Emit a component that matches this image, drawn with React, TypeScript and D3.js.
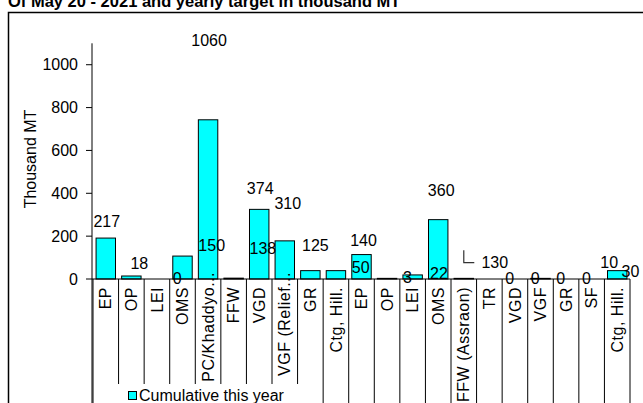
import * as d3 from "d3";

const W = 643;
const H = 403;
const FONT = "'Liberation Sans', Arial, sans-serif";

// categories along the x axis
const categories = [
  "EP", "OP", "LEI", "OMS", "PC/Khaddyo...", "FFW", "VGD", "VGF (Relief...", "GR", "Ctg, Hill.",
  "EP", "OP", "LEI", "OMS", "FFW (Assraon)", "TR", "VGD", "VGF", "GR", "SF", "Ctg, Hill.",
];
// cumulative this year (bars)
const cumulative = [191, 14, 0, 107, 743, 4, 325, 178, 39, 39, 114, 3, 19, 277, 3, 0, 0, 3, 0, 0, 39];
// yearly target labels
const targets = [217, 18, null, null, 1060, null, 374, 310, 125, null, 140, null, null, 360, 130, null, null, null, null, null, 10];
// labels drawn inside / next to the bars
const innerLabels = [null, null, null, 0, 150, null, 138, null, null, null, 50, null, 3, 22, null, null, 0, 0, 0, 0, 30];
const yTicks = [0, 200, 400, 600, 800, 1000];

// hand placed labels in the original (dx, dy in px)
const targetNudge: Record<number, [number, number]> = {
  0: [1, 0], 1: [8, 0], 4: [1, 0], 6: [1, 1], 7: [3, 2.4], 8: [5, 5], 10: [2, 3], 13: [3, 0], 14: [31, 23], 20: [-8, -3],
};
const innerNudge: Record<number, [number, number]> = { 13: [1.5, 0], 20: [14, 0] };
// truncated category labels overflow upwards into the plot
const catShift: Record<number, number> = { 4: -15, 7: -15 };

export default function App() {
  const x = d3.scaleBand<number>()
    .domain(categories.map((_, i) => i))
    .range([93, 630])
    .paddingInner(0.24)
    .paddingOuter(0.12);
  const step = x.step();
  const x0 = 93;

  const y = d3.scaleLinear().domain([0, 1100]).range([279, 43.3]);

  const cx = (i: number) => (x(i) ?? 0) + x.bandwidth() / 2;

  return (
    <svg width={W} height={H} style={{ position: "absolute", left: 0, top: 0, background: "#fff" }} fontFamily={FONT}>
      {/* title, cut at the top */}
      <text x={8} y={6.5} fontSize={16.5} fontWeight="bold">Of May 20 - 2021 and yearly target in thousand MT</text>
      {/* chart frame */}
      <rect x={8.5} y={12.5} width={W + 10} height={H + 10} fill="none" stroke="#000" strokeWidth={1.5} />

      {/* category dividers */}
      {d3.range(categories.length + 1).map((i) => (
        <line key={"d" + i} x1={x0 + i * step} x2={x0 + i * step} y1={y(0)} y2={H + 5} stroke="#000" strokeWidth={1} />
      ))}

      {/* bars */}
      {cumulative.map((v, i) => (
        <rect key={"b" + i} x={x(i)} y={y(v)} width={x.bandwidth()} height={y(0) - y(v)}
          fill="#00ffff" stroke="#000" strokeWidth={1} />
      ))}

      {/* y axis */}
      <line x1={92} x2={92} y1={y(1100)} y2={H + 5} stroke="#000" />
      {yTicks.map((t) => (
        <g key={"t" + t}>
          <line x1={86} x2={92} y1={y(t)} y2={y(t)} stroke="#000" />
          <text x={78} y={y(t)} dy="0.35em" textAnchor="end" fontSize={16}>{t}</text>
        </g>
      ))}
      <text transform={`translate(30,159) rotate(-90)`} textAnchor="middle" dy="0.35em" fontSize={16}>Thousand MT</text>

      {/* x axis */}
      <line x1={92} x2={630} y1={y(0)} y2={y(0)} stroke="#000" />
      {categories.map((c, i) => (
        <text key={"c" + i} transform={`translate(${cx(i)},${287 + (catShift[i] ?? 0)}) rotate(-90)`}
          textAnchor="end" dy="0.35em" fontSize={16} letterSpacing={0.5}>{c}</text>
      ))}

      {/* target labels */}
      {targets.map((v, i) => {
        if (v == null) return null;
        const [dx, dy] = targetNudge[i] ?? [0, 0];
        return (
          <text key={"tl" + i} x={cx(i) + dx} y={y(v) - 6 + dy} textAnchor="middle" fontSize={16}>{v}</text>
        );
      })}
      {/* leader line of the moved 130 label */}
      <path d={`M${cx(14)},${y(130) - 1}V${y(130) + 11.5}H${cx(14) + 10.5}`} fill="none" stroke="#333" strokeWidth={1.2} />

      {/* inner labels */}
      {innerLabels.map((v, i) => {
        if (v == null) return null;
        const [dx, dy] = innerNudge[i] ?? [0, 0];
        return (
          <text key={"il" + i} x={(x(i) ?? 0) + dx} y={y(v) - 1 + dy} dy="0.35em" fontSize={16}>{v}</text>
        );
      })}

      {/* legend */}
      <rect x={97} y={384} width={213} height={25} fill="#fff" />
      <rect x={128.5} y={391.5} width={8} height={8} fill="#00ffff" stroke="#000" strokeWidth={1} />
      <text x={139} y={401} fontSize={16}>Cumulative this year</text>
    </svg>
  );
}
